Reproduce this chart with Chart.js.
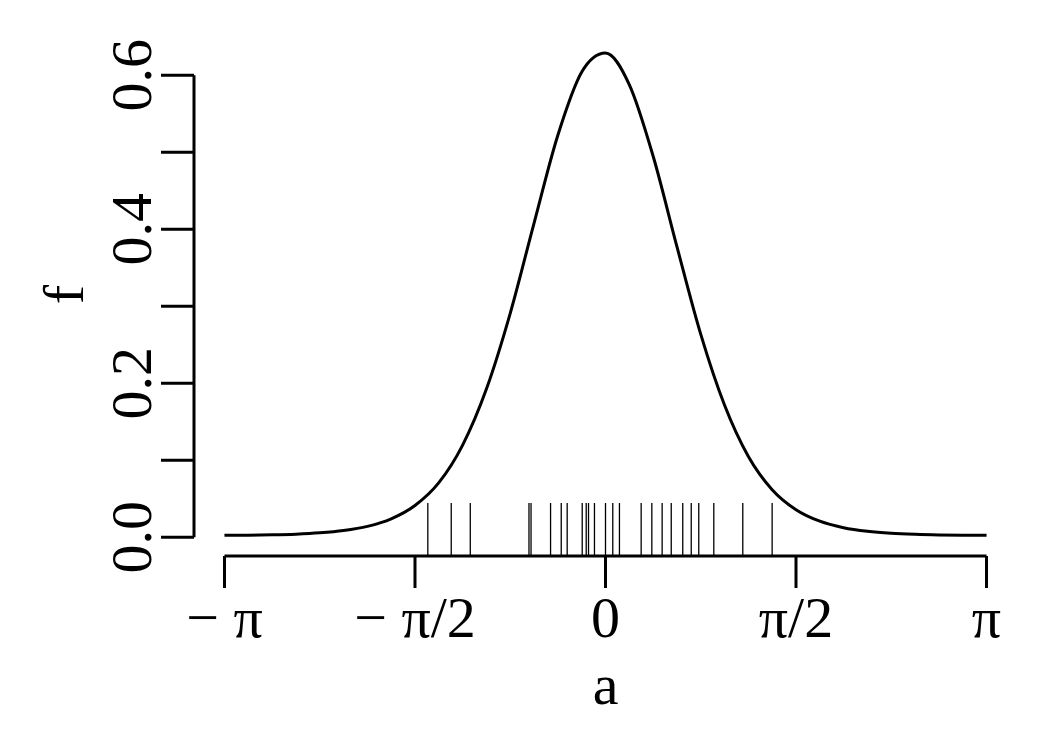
<!DOCTYPE html>
<html>
<head>
<meta charset="utf-8">
<script src="https://cdn.jsdelivr.net/npm/chart.js@4"></script>
<style>
  html, body { margin: 0; padding: 0; background: #fff; }
</style>
</head>
<body>
<canvas id="densityChart" width="1050" height="750"></canvas>
<script>
// angle grid (radians) and density
const angles = [-3.142, -2.945, -2.749, -2.553, -2.356, -2.160, -1.963, -1.767, -1.571, -1.374, -1.178,
  -0.982, -0.785, -0.589, -0.393, -0.196, 0.000, 0.196, 0.393, 0.589, 0.785, 0.982,
  1.178, 1.374, 1.571, 1.767, 1.963, 2.160, 2.356, 2.553, 2.749, 2.945, 3.142];
const density = [0.0023, 0.0025, 0.0030, 0.0039, 0.0056, 0.0086, 0.0140, 0.0238, 0.0411, 0.0708, 0.1196,
  0.1924, 0.2911, 0.4080, 0.5221, 0.6043, 0.6291, 0.5880, 0.4949, 0.3775, 0.2637, 0.1713,
  0.1048, 0.0617, 0.0357, 0.0207, 0.0123, 0.0076, 0.0050, 0.0036, 0.0028, 0.0024, 0.0023];
// observed angles shown as a rug
const observations = [-1.465, -1.272, -1.115, -0.631, -0.614, -0.453, -0.365, -0.316, -0.192, -0.159,
  -0.140, -0.091, 0.000, 0.060, 0.115, 0.294, 0.382, 0.467, 0.542, 0.637, 0.707, 0.769,
  0.893, 1.132, 1.374];

const xTickValues = [-Math.PI, -Math.PI / 2, 0, Math.PI / 2, Math.PI];
const xTickLabels = ["\u2212 \u03c0", "\u2212 \u03c0/2", "0", "\u03c0/2", "\u03c0"];
const yTickValues = [0, 0.1, 0.2, 0.3, 0.4, 0.5, 0.6];
const yTickLabels = ["0.0", "", "0.2", "", "0.4", "", "0.6"];

const FONT = '58px "Liberation Serif", "Times New Roman", serif';

const baseAxes = {
  id: "baseAxes",
  afterDatasetsDraw(chart) {
    const { ctx, chartArea, scales } = chart;
    const xs = scales.x, ys = scales.y;
    ctx.save();
    ctx.strokeStyle = "#000";
    ctx.fillStyle = "#000";

    // rug
    ctx.lineWidth = 1.3;
    observations.forEach((v) => {
      const px = xs.getPixelForValue(v);
      ctx.beginPath();
      ctx.moveTo(px, chartArea.bottom);
      ctx.lineTo(px, chartArea.bottom - 53);
      ctx.stroke();
    });

    ctx.lineWidth = 3;
    ctx.font = FONT;

    // x axis
    const y0 = chartArea.bottom;
    ctx.beginPath();
    ctx.moveTo(xs.getPixelForValue(xTickValues[0]), y0);
    ctx.lineTo(xs.getPixelForValue(xTickValues[xTickValues.length - 1]), y0);
    xTickValues.forEach((v) => {
      const px = xs.getPixelForValue(v);
      ctx.moveTo(px, y0);
      ctx.lineTo(px, y0 + 32);
    });
    ctx.stroke();
    ctx.textAlign = "center";
    ctx.textBaseline = "alphabetic";
    xTickValues.forEach((v, i) => {
      ctx.fillText(xTickLabels[i], xs.getPixelForValue(v), y0 + 81);
    });

    // y axis
    const x0 = chartArea.left;
    ctx.beginPath();
    ctx.moveTo(x0, ys.getPixelForValue(yTickValues[0]));
    ctx.lineTo(x0, ys.getPixelForValue(yTickValues[yTickValues.length - 1]));
    yTickValues.forEach((v) => {
      const py = ys.getPixelForValue(v);
      ctx.moveTo(x0, py);
      ctx.lineTo(x0 - 33, py);
    });
    ctx.stroke();
    yTickValues.forEach((v, i) => {
      if (!yTickLabels[i]) return;
      ctx.save();
      ctx.translate(151, ys.getPixelForValue(v));
      ctx.rotate(-Math.PI / 2);
      ctx.fillText(yTickLabels[i], 0, 0);
      ctx.restore();
    });

    // axis titles
    ctx.fillText("a", (chartArea.left + chartArea.right) / 2, 704);
    ctx.save();
    ctx.translate(83, (chartArea.top + chartArea.bottom) / 2);
    ctx.rotate(-Math.PI / 2);
    ctx.fillText("f", 0, 0);
    ctx.restore();

    ctx.restore();
  }
};

new Chart(document.getElementById("densityChart"), {
  type: "line",
  data: {
    datasets: [{
      data: angles.map((a, i) => ({ x: a, y: density[i] })),
      borderColor: "#000",
      borderWidth: 3,
      pointRadius: 0,
      cubicInterpolationMode: "monotone",
      fill: false
    }]
  },
  options: {
    responsive: false,
    animation: false,
    events: [],
    layout: { padding: { left: 194, right: 33, top: 33, bottom: 194 } },
    plugins: { legend: { display: false }, tooltip: { enabled: false } },
    scales: {
      x: { type: "linear", display: false, min: -3.393, max: 3.393 },
      y: { type: "linear", display: false, min: -0.0245, max: 0.655 }
    }
  },
  plugins: [baseAxes]
});
</script>
</body>
</html>
